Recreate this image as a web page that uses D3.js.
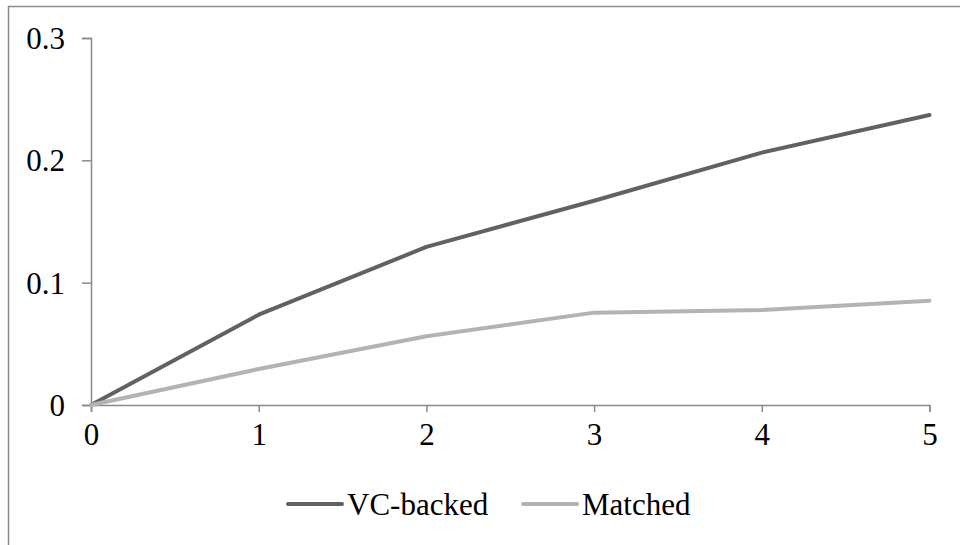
<!DOCTYPE html>
<html><head><meta charset="utf-8">
<script src="https://cdn.jsdelivr.net/npm/d3@7"></script>
<style>html,body{margin:0;padding:0;background:#fff;}svg{display:block;}</style>
</head><body>
<script>
const years = [0, 1, 2, 3, 4, 5];
const vcBacked = [0, 0.0738, 0.1292, 0.1670, 0.2063, 0.2371];
const matched = [0, 0.0294, 0.0562, 0.0755, 0.0777, 0.0853];
const yTicks = [0, 0.1, 0.2, 0.3];
const seriesNames = ["VC-backed", "Matched"];
const seriesColors = ["#616161", "#b3b3b3"];

const W = 960, H = 545;
const svg = d3.select("body").append("svg").attr("width", W).attr("height", H);
const font = "'Liberation Serif','Times New Roman',serif";

svg.append("rect").attr("x", 8.5).attr("y", 6.5).attr("width", 970).attr("height", 560)
  .attr("fill", "none").attr("stroke", "#8a8a8a").attr("stroke-width", 1.5);

const x = d3.scaleLinear().domain([0, 5]).range([91, 929.5]);
const y = d3.scaleLinear().domain([0, 0.3]).range([405, 38]);

const axisColor = "#888888";
// y axis
const ya = svg.append("g").attr("transform", "translate(91,0)")
  .call(d3.axisLeft(y).tickValues(yTicks).tickSize(9).tickPadding(17)
    .tickFormat(d => d === 0 ? "0" : d3.format(".1f")(d)));
ya.select(".domain").attr("stroke", axisColor).attr("stroke-width", 1.5);
ya.selectAll(".tick line").attr("stroke", axisColor).attr("stroke-width", 1.5);
ya.selectAll("text").attr("font-family", font).attr("font-size", 31).attr("fill", "#000").attr("dy", "0.34em");

// x axis
const xa = svg.append("g").attr("transform", "translate(0,405)")
  .call(d3.axisBottom(x).tickValues(years).tickSize(7).tickPadding(11).tickFormat(d3.format("d")));
xa.select(".domain").attr("stroke", axisColor).attr("stroke-width", 1.5);
xa.selectAll(".tick line").attr("stroke", axisColor).attr("stroke-width", 1.5);
xa.selectAll("text").attr("font-family", font).attr("font-size", 31).attr("fill", "#000");

const line = d3.line().x((d, i) => x(years[i])).y(d => y(d));
const data = [vcBacked, matched];
data.forEach((s, k) => {
  svg.append("path").datum(s).attr("d", line).attr("fill", "none")
    .attr("stroke", seriesColors[k]).attr("stroke-width", 4).attr("stroke-linejoin", "round").attr("stroke-linecap", "round");
});

// legend
const legX = [288, 523];
seriesNames.forEach((n, k) => {
  const g = svg.append("g");
  g.append("line").attr("x1", legX[k]).attr("x2", legX[k] + 54).attr("y1", 504).attr("y2", 504)
    .attr("stroke", seriesColors[k]).attr("stroke-width", 4).attr("stroke-linecap", "round");
  g.append("text").attr("x", legX[k] + 59).attr("y", 515).text(n)
    .attr("font-family", font).attr("font-size", 31).attr("fill", "#000");
});
</script>
</body></html>
